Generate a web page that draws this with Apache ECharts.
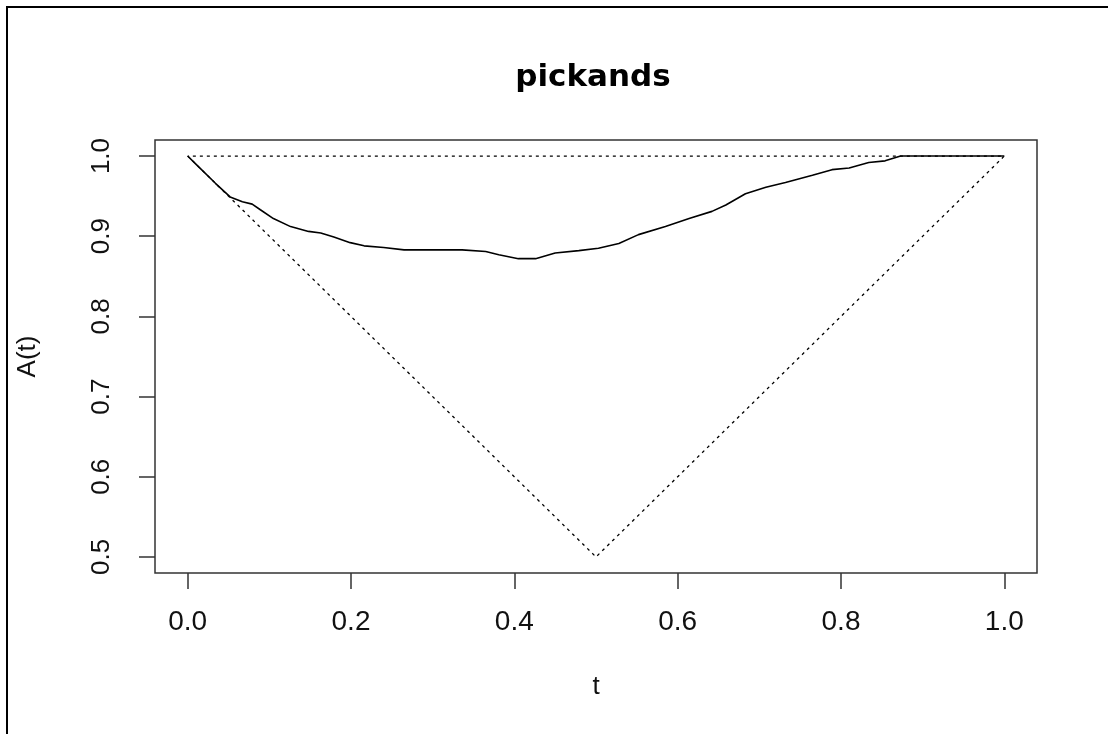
<!DOCTYPE html>
<html>
<head>
<meta charset="utf-8">
<script src="https://cdn.jsdelivr.net/npm/echarts@6/dist/echarts.min.js"></script>
<style>
html,body{margin:0;padding:0;background:#fff;}
#chart{width:1108px;height:734px;}
</style>
</head>
<body>
<div id="chart"></div>
<script>
// Pickands dependence function estimate A(t)
const tValues = [0, 0.011, 0.034, 0.052, 0.067, 0.079, 0.089, 0.105, 0.126, 0.148, 0.163, 0.179, 0.199, 0.216, 0.240, 0.265, 0.336, 0.365, 0.381, 0.405, 0.426, 0.450, 0.479, 0.503, 0.528, 0.552, 0.585, 0.614, 0.642, 0.659, 0.683, 0.708, 0.732, 0.765, 0.789, 0.810, 0.834, 0.854, 0.873, 1.0];
const aValues = [1, 0.989, 0.966, 0.949, 0.943, 0.940, 0.933, 0.922, 0.912, 0.906, 0.904, 0.899, 0.892, 0.888, 0.886, 0.883, 0.883, 0.881, 0.877, 0.872, 0.872, 0.879, 0.882, 0.885, 0.891, 0.902, 0.912, 0.922, 0.931, 0.939, 0.953, 0.961, 0.967, 0.976, 0.983, 0.985, 0.992, 0.994, 1.0, 1.0];
// bounds triangle: A = 1 and A = max(t, 1-t)
const boundT = [0, 0.5, 1, 0];
const boundA = [1, 0.5, 1, 1];
const xTicks = [0, 0.2, 0.4, 0.6, 0.8, 1.0];
const yTicks = [0.5, 0.6, 0.7, 0.8, 0.9, 1.0];

const curve = tValues.map((t, i) => [t, aValues[i]]);
const bounds = boundT.map((t, i) => [t, boundA[i]]);

const chart = echarts.init(document.getElementById('chart'), null, {renderer: 'canvas'});
const axisColor = '#333';
const textColor = '#111';
chart.setOption({
  animation: false,
  backgroundColor: '#fff',
  title: {
    text: 'pickands',
    left: 588,
    top: 57,
    textAlign: 'center',
    textStyle: {fontFamily: 'DejaVu Sans', fontWeight: 'bold', fontSize: 31, color: '#000'}
  },
  grid: {
    left: 155, top: 140, width: 882, height: 433,
    show: true, borderColor: axisColor, borderWidth: 1.5, backgroundColor: 'transparent',
    containLabel: false
  },
  xAxis: {
    type: 'value', min: -0.04, max: 1.04,
    name: 't', nameLocation: 'middle', nameGap: 101,
    nameTextStyle: {fontFamily: 'Liberation Sans', fontSize: 26, color: textColor},
    axisLine: {show: false, onZero: false},
    splitLine: {show: false},
    axisTick: {show: true, length: 16, inside: false, customValues: xTicks, lineStyle: {color: axisColor, width: 1.5}},
    axisLabel: {show: true, customValues: xTicks, margin: 35, fontFamily: 'Liberation Sans', fontSize: 28, color: textColor,
      formatter: v => v.toFixed(1)}
  },
  yAxis: {
    type: 'value', min: 0.48, max: 1.02,
    name: 'A(t)', nameLocation: 'middle', nameGap: 114, nameRotate: 90,
    nameTextStyle: {fontFamily: 'Liberation Sans', fontSize: 26, color: textColor},
    axisLine: {show: false, onZero: false},
    splitLine: {show: false},
    axisTick: {show: true, length: 16, inside: false, customValues: yTicks, lineStyle: {color: axisColor, width: 1.5}},
    axisLabel: {show: true, customValues: yTicks, rotate: 90, margin: 40, fontFamily: 'Liberation Sans', fontSize: 26, color: textColor,
      formatter: v => v.toFixed(1)}
  },
  graphic: [{
    type: 'rect', silent: true,
    shape: {x: 7, y: 7, width: 1300, height: 900},
    style: {fill: 'none', stroke: '#000', lineWidth: 2}
  }],
  series: [
    {
      type: 'line', data: bounds, showSymbol: false, symbol: 'none',
      lineStyle: {color: '#000', width: 1.3, type: [3, 4]}, z: 2
    },
    {
      type: 'line', data: curve, showSymbol: false, symbol: 'none', smooth: false,
      lineStyle: {color: '#000', width: 1.6}, z: 3
    }
  ]
});
</script>
</body>
</html>
